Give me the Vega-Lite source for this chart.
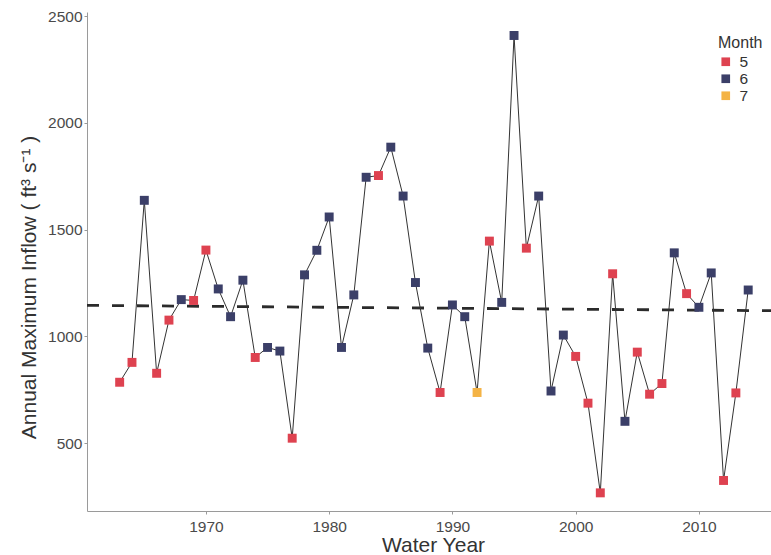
{
  "$schema": "https://vega.github.io/schema/vega-lite/v6.json",
  "width": 684,
  "height": 499,
  "autosize": {"type": "none"},
  "padding": {"left": 87, "top": 12, "right": 0, "bottom": 44},
  "background": "white",
  "config": {
    "font": "Liberation Sans",
    "view": {"stroke": null},
    "axis": {"grid": false, "domainColor": "#9a9a9a", "tickColor": "#9a9a9a", "labelColor": "#4a4a4a", "labelFontSize": 15.5, "titleFontWeight": "normal", "titleColor": "#333333", "tickSize": 3}
  },
  "datasets": {
    "flow": [
      {"year": 1963, "inflow": 785, "month": "5"},
      {"year": 1964, "inflow": 878, "month": "5"},
      {"year": 1965, "inflow": 1637, "month": "6"},
      {"year": 1966, "inflow": 827, "month": "5"},
      {"year": 1967, "inflow": 1076, "month": "5"},
      {"year": 1968, "inflow": 1172, "month": "6"},
      {"year": 1969, "inflow": 1168, "month": "5"},
      {"year": 1970, "inflow": 1404, "month": "5"},
      {"year": 1971, "inflow": 1222, "month": "6"},
      {"year": 1972, "inflow": 1092, "month": "6"},
      {"year": 1973, "inflow": 1263, "month": "6"},
      {"year": 1974, "inflow": 901, "month": "5"},
      {"year": 1975, "inflow": 948, "month": "6"},
      {"year": 1976, "inflow": 931, "month": "6"},
      {"year": 1977, "inflow": 523, "month": "5"},
      {"year": 1978, "inflow": 1288, "month": "6"},
      {"year": 1979, "inflow": 1403, "month": "6"},
      {"year": 1980, "inflow": 1559, "month": "6"},
      {"year": 1981, "inflow": 948, "month": "6"},
      {"year": 1982, "inflow": 1194, "month": "6"},
      {"year": 1983, "inflow": 1745, "month": "6"},
      {"year": 1984, "inflow": 1753, "month": "5"},
      {"year": 1985, "inflow": 1886, "month": "6"},
      {"year": 1986, "inflow": 1657, "month": "6"},
      {"year": 1987, "inflow": 1252, "month": "6"},
      {"year": 1988, "inflow": 945, "month": "6"},
      {"year": 1989, "inflow": 737, "month": "5"},
      {"year": 1990, "inflow": 1147, "month": "6"},
      {"year": 1991, "inflow": 1092, "month": "6"},
      {"year": 1992, "inflow": 737, "month": "7"},
      {"year": 1993, "inflow": 1446, "month": "5"},
      {"year": 1994, "inflow": 1159, "month": "6"},
      {"year": 1995, "inflow": 2409, "month": "6"},
      {"year": 1996, "inflow": 1413, "month": "5"},
      {"year": 1997, "inflow": 1657, "month": "6"},
      {"year": 1998, "inflow": 744, "month": "6"},
      {"year": 1999, "inflow": 1006, "month": "6"},
      {"year": 2000, "inflow": 906, "month": "5"},
      {"year": 2001, "inflow": 687, "month": "5"},
      {"year": 2002, "inflow": 267, "month": "5"},
      {"year": 2003, "inflow": 1293, "month": "5"},
      {"year": 2004, "inflow": 602, "month": "6"},
      {"year": 2005, "inflow": 926, "month": "5"},
      {"year": 2006, "inflow": 729, "month": "5"},
      {"year": 2007, "inflow": 779, "month": "5"},
      {"year": 2008, "inflow": 1391, "month": "6"},
      {"year": 2009, "inflow": 1200, "month": "5"},
      {"year": 2010, "inflow": 1136, "month": "6"},
      {"year": 2011, "inflow": 1297, "month": "6"},
      {"year": 2012, "inflow": 325, "month": "5"},
      {"year": 2013, "inflow": 735, "month": "5"},
      {"year": 2014, "inflow": 1217, "month": "6"}
    ],
    "trend": [
      {"year": 1960.35, "inflow": 1145},
      {"year": 2015.85, "inflow": 1120}
    ]
  },
  "layer": [
    {
      "data": {"name": "trend"},
      "mark": {"type": "line", "color": "#2b2b2b", "strokeWidth": 2.8, "strokeDash": [12, 13], "clip": true},
      "encoding": {
        "x": {"field": "year", "type": "quantitative"},
        "y": {"field": "inflow", "type": "quantitative"}
      }
    },
    {
      "data": {"name": "flow"},
      "mark": {"type": "line", "color": "#333333", "strokeWidth": 1},
      "encoding": {
        "x": {"field": "year", "type": "quantitative"},
        "y": {"field": "inflow", "type": "quantitative"}
      }
    },
    {
      "data": {"name": "flow"},
      "mark": {"type": "point", "shape": "square", "filled": true, "size": 80, "opacity": 1},
      "encoding": {
        "x": {
          "field": "year", "type": "quantitative", "title": "Water Year",
          "scale": {"domain": [1960.35, 2015.85], "nice": false, "zero": false},
          "axis": {"values": [1970, 1980, 1990, 2000, 2010], "format": "d", "titlePadding": 0, "labelPadding": 5, "titleFontSize": 21, "titleX": 346}
        },
        "y": {
          "field": "inflow", "type": "quantitative", "title": "Annual Maximum Inflow ( ft³ s⁻¹ )",
          "scale": {"domain": [182, 2519], "nice": false, "zero": false},
          "axis": {"values": [500, 1000, 1500, 2000, 2500], "format": "d", "titlePadding": 8, "labelPadding": 2, "titleFontSize": 21, "titleY": 275}
        },
        "color": {
          "field": "month", "type": "nominal", "title": "Month",
          "scale": {"domain": ["5", "6", "7"], "range": ["#de4250", "#3b3f68", "#f4b345"]},
          "legend": {"orient": "none", "legendX": 631, "legendY": 23, "symbolType": "square", "symbolSize": 75, "titleFontSize": 16, "titleFontWeight": "normal", "titleColor": "#333333", "labelFontSize": 15.5, "labelColor": "#333333", "rowPadding": -1, "titlePadding": 3, "labelOffset": 6}
        }
      }
    }
  ]
}
